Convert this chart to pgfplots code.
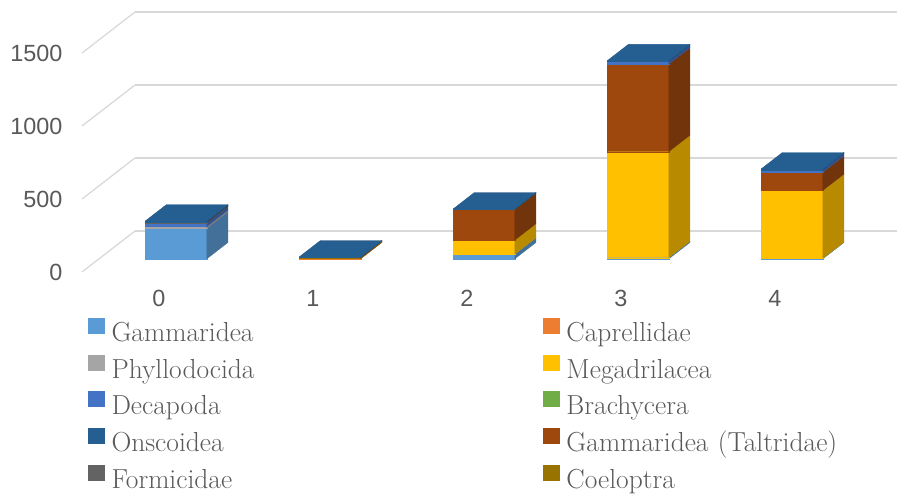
\documentclass[border=0pt]{standalone}
\usepackage{pgfplots}
\pgfplotsset{compat=1.18}
\usepackage{pgfplotstable}
\usepackage{fontspec}
\newfontfamily\ticksans{Liberation Sans}

% Office palette for the ten taxa
\definecolor{cGam}{HTML}{5B9BD5}
\definecolor{cCap}{HTML}{ED7D31}
\definecolor{cPhy}{HTML}{A5A5A5}
\definecolor{cMeg}{HTML}{FFC000}
\definecolor{cDec}{HTML}{4472C4}
\definecolor{cBra}{HTML}{70AD47}
\definecolor{cOns}{HTML}{255E91}
\definecolor{cTal}{HTML}{9E480E}
\definecolor{cFor}{HTML}{636363}
\definecolor{cCoe}{HTML}{997300}
\definecolor{gridgray}{HTML}{D9D9D9}
\definecolor{labelgray}{HTML}{595959}

% counts per sample (rows) and taxon (columns, in stacking order)
\pgfplotstableread{
cat Gam Cap Phy Meg Bra Tal Dec For Coe Ons
0   210 0   12  0   0   0   22  10  0   5
1   0   4   0   0   0   0   0   0   6   3
2   32  0   0   96  0   210 0   0   0   4
3   8   0   0   726 0   600 18  0   0   5
4   3   0   0   465 0   125 18  0   0   5
}\counts

% depth of the columns inside the floor (0 = front, 1 = back wall)
\def\yfront{0.32}
\def\yback{0.72}

\begin{document}
\begin{tikzpicture}
\begin{axis}[
  x={(154pt,0pt)}, y={(53pt,41pt)}, z={(0pt,0.146pt)},
  xmin=-0.5, xmax=4.45, ymin=0, ymax=1, zmin=0, zmax=1500,
  enlargelimits=false, clip=false,
  axis line style={draw=none},
  major tick length=0pt,
  xtick={0,1,2,3,4}, ytick=\empty, ztick={0,500,1000,1500},
  zmajorgrids=true,
  major grid style={draw=gridgray, line width=1.3pt},
  tick label style={font=\ticksans\fontsize{23.4}{28}\selectfont, text=labelgray},
  xticklabel style={anchor=north, yshift=-15pt},
  zticklabel style={anchor=east, xshift=-16pt},
  /pgf/number format/assume math mode=true,
  /pgf/number format/1000 sep={},
]
\pgfplotsforeachungrouped \r in {0,1,2,3,4}{%
  \def\cum{0}%
  \pgfmathsetmacro\xlo{\r-0.2}%
  \pgfmathsetmacro\xhi{\r+0.2}%
  \pgfplotsforeachungrouped \s in {Gam,Cap,Phy,Meg,Bra,Tal,Dec,For,Coe,Ons}{%
    \edef\fetch{\noexpand\pgfplotstablegetelem{\r}{\s}\noexpand\of\noexpand\counts}%
    \fetch
    \pgfmathsetmacro\val{\pgfplotsretval}%
    \pgfmathsetmacro\zlo{\cum}%
    \pgfmathsetmacro\zhi{\cum+\val}%
    \ifdim\val pt>0pt
      \edef\drawsegment{%
        \noexpand\addplot3[forget plot, mark=none, fill=c\s, draw=c\s, line width=0.3pt]
          coordinates {(\xlo,\yfront,\zlo) (\xhi,\yfront,\zlo) (\xhi,\yfront,\zhi) (\xlo,\yfront,\zhi) (\xlo,\yfront,\zlo)};
        \noexpand\addplot3[forget plot, mark=none, fill=c\s!72!black, draw=c\s!72!black, line width=0.3pt]
          coordinates {(\xhi,\yfront,\zlo) (\xhi,\yback,\zlo) (\xhi,\yback,\zhi) (\xhi,\yfront,\zhi) (\xhi,\yfront,\zlo)};
        \noexpand\addplot3[forget plot, mark=none, fill=c\s, draw=c\s, line width=0.3pt]
          coordinates {(\xlo,\yfront,\zhi) (\xhi,\yfront,\zhi) (\xhi,\yback,\zhi) (\xlo,\yback,\zhi) (\xlo,\yfront,\zhi)};
      }%
      \drawsegment
    \fi
    \let\cum\zhi
  }%
}
\coordinate (fl) at (axis cs:-0.5,0,0);
\end{axis}

% legend, two columns, below the chart
\begin{axis}[
  hide axis, scale only axis, width=1pt, height=1pt,
  xmin=0, xmax=1, ymin=0, ymax=1,
  at={(fl)}, anchor=south west, xshift=6pt, yshift=-46pt,
  legend columns=2, legend cell align=left,
  legend image code/.code={\fill[#1] (0pt,1pt) rectangle (17pt,17pt); \path (23.5pt,0pt);},
  legend style={at={(0,0)}, anchor=north west, draw=none, fill=none,
    inner sep=0pt, outer sep=0pt, column sep=0pt, row sep=6.2pt,
    font=\fontsize{27.5}{33}\selectfont, text=labelgray,
    nodes={inner sep=0pt, text height=20pt, text depth=7pt, text width=431.5pt}},
]
\addlegendimage{fill=cGam, draw=none}\addlegendentry{Gammaridea}
\addlegendimage{fill=cCap, draw=none}\addlegendentry{Caprellidae}
\addlegendimage{fill=cPhy, draw=none}\addlegendentry{Phyllodocida}
\addlegendimage{fill=cMeg, draw=none}\addlegendentry{Megadrilacea}
\addlegendimage{fill=cDec, draw=none}\addlegendentry{Decapoda}
\addlegendimage{fill=cBra, draw=none}\addlegendentry{Brachycera}
\addlegendimage{fill=cOns, draw=none}\addlegendentry{Onscoidea}
\addlegendimage{fill=cTal, draw=none}\addlegendentry{Gammaridea (Taltridae)}
\addlegendimage{fill=cFor, draw=none}\addlegendentry{Formicidae}
\addlegendimage{fill=cCoe, draw=none}\addlegendentry{Coeloptra}
\end{axis}

\pgfresetboundingbox
\path[use as bounding box] ([shift={(-82pt,-223pt)}]fl) rectangle ++(897pt,495pt);
\end{tikzpicture}
\end{document}
